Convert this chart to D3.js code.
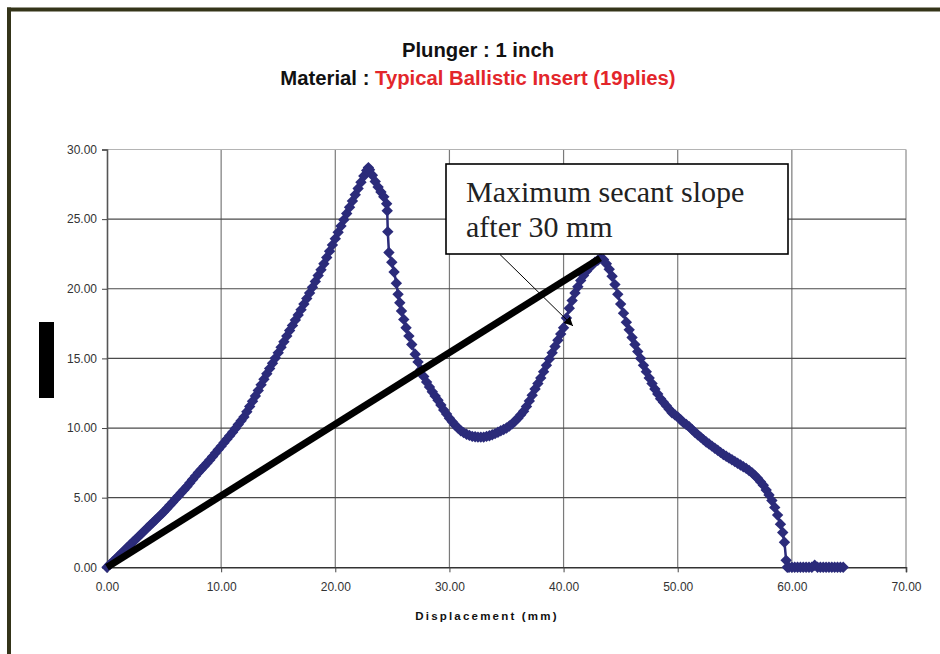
<!DOCTYPE html>
<html lang="en">
<head>
  <meta charset="UTF-8">
  <style>
    html, body { margin: 0; padding: 0; background: #fff; }
    svg { display: block; }
    .tick text { font-family: "Liberation Sans", Arial, sans-serif; font-size: 12px; fill: #333; }
    .title { font-family: "Liberation Sans", Arial, sans-serif; font-size: 20.3px; font-weight: bold; text-anchor: middle; }
    .axis-title { font-family: "Liberation Sans", Arial, sans-serif; font-size: 11.5px; font-weight: bold; letter-spacing: 2.2px; text-anchor: middle; fill: #111; }
    .note { font-family: "Liberation Serif", "Times New Roman", serif; font-size: 30px; fill: #222; }
  </style>
  <script src="https://d3js.org/d3.v7.min.js"></script>
</head>
<body>
  <svg id="chart" width="940" height="654"></svg>

  <script>
    // displacement (mm) and load
    const displacement = [
      0.00, 0.25, 0.50, 0.75, 1.00, 1.25, 1.50, 1.75, 2.00, 2.25,
      2.50, 2.75, 3.00, 3.25, 3.50, 3.75, 4.00, 4.25, 4.50, 4.75,
      5.00, 5.25, 5.50, 5.75, 6.00, 6.25, 6.50, 6.75, 7.00, 7.25,
      7.50, 7.75, 8.00, 8.25, 8.50, 8.75, 9.00, 9.25, 9.50, 9.75,
      10.00, 10.25, 10.50, 10.75, 11.00, 11.25, 11.50, 11.75, 12.00, 12.25,
      12.50, 12.75, 13.00, 13.25, 13.50, 13.75, 14.00, 14.25, 14.50, 14.75,
      15.00, 15.25, 15.50, 15.75, 16.00, 16.25, 16.50, 16.75, 17.00, 17.25,
      17.50, 17.75, 18.00, 18.25, 18.50, 18.75, 19.00, 19.25, 19.50, 19.75,
      20.00, 20.25, 20.50, 20.75, 21.00, 21.25, 21.50, 21.75, 22.00, 22.25,
      22.50, 22.75, 22.90, 23.00, 23.25, 23.50, 23.75, 24.00, 24.25, 24.50,
      24.55, 24.60, 24.70, 24.95, 25.15, 25.35, 25.50, 25.65, 25.80, 26.00,
      26.20, 26.45, 26.70, 27.00, 27.25, 27.50, 27.75, 28.00, 28.25, 28.50,
      28.75, 29.00, 29.25, 29.50, 29.75, 30.00, 30.25, 30.50, 30.75, 31.00,
      31.25, 31.50, 31.75, 32.00, 32.25, 32.50, 32.75, 33.00, 33.25, 33.50,
      33.75, 34.00, 34.25, 34.50, 34.75, 35.00, 35.25, 35.50, 35.75, 36.00,
      36.25, 36.50, 36.75, 37.00, 37.25, 37.50, 37.75, 38.00, 38.25, 38.50,
      38.75, 39.00, 39.25, 39.50, 39.75, 40.00, 40.25, 40.50, 40.75, 41.00,
      41.25, 41.50, 41.75, 42.00, 42.25, 42.50, 42.75, 43.00, 43.25, 43.50,
      43.75, 44.00, 44.25, 44.50, 44.75, 45.00, 45.25, 45.50, 45.75, 46.00,
      46.25, 46.50, 46.75, 47.00, 47.25, 47.50, 47.75, 48.00, 48.25, 48.50,
      48.75, 49.00, 49.25, 49.50, 49.75, 50.00, 50.25, 50.50, 50.75, 51.00,
      51.25, 51.50, 51.75, 52.00, 52.25, 52.50, 52.75, 53.00, 53.25, 53.50,
      53.75, 54.00, 54.25, 54.50, 54.75, 55.00, 55.25, 55.50, 55.75, 56.00,
      56.25, 56.50, 56.75, 57.00, 57.25, 57.50, 57.75, 58.00, 58.25, 58.50,
      58.75, 59.00, 59.20, 59.35, 59.50, 59.60, 59.75, 60.00, 60.25, 60.50,
      60.75, 61.00, 61.25, 61.50, 61.75, 62.00, 62.25, 62.50, 62.75, 63.00,
      63.25, 63.50, 63.75, 64.00, 64.25, 64.50
    ];
    const load = [
      0.00, 0.20, 0.40, 0.60, 0.80, 1.00, 1.20, 1.40, 1.60, 1.80,
      2.00, 2.20, 2.40, 2.60, 2.80, 3.00, 3.20, 3.40, 3.60, 3.80,
      4.00, 4.22, 4.45, 4.67, 4.90, 5.12, 5.35, 5.57, 5.80, 6.05,
      6.30, 6.55, 6.80, 7.02, 7.25, 7.47, 7.70, 7.95, 8.20, 8.45,
      8.70, 8.95, 9.20, 9.45, 9.70, 9.97, 10.25, 10.52, 10.80, 11.17,
      11.55, 11.92, 12.30, 12.70, 13.10, 13.50, 13.90, 14.27, 14.65, 15.02,
      15.40, 15.80, 16.20, 16.60, 17.00, 17.37, 17.75, 18.12, 18.50, 18.90,
      19.30, 19.70, 20.10, 20.52, 20.95, 21.37, 21.80, 22.25, 22.70, 23.15,
      23.60, 24.05, 24.50, 24.95, 25.40, 25.85, 26.30, 26.75, 27.20, 27.65,
      28.10, 28.50, 28.70, 28.55, 28.15, 27.70, 27.30, 26.95, 26.60, 26.10,
      25.60, 24.10, 22.60, 21.90, 21.20, 20.40, 19.60, 19.00, 18.40, 17.80,
      17.20, 16.60, 16.00, 15.30, 14.75, 14.20, 13.70, 13.30, 12.95, 12.60,
      12.30, 12.00, 11.65, 11.30, 11.00, 10.70, 10.45, 10.20, 10.00, 9.80,
      9.67, 9.55, 9.47, 9.40, 9.37, 9.35, 9.35, 9.35, 9.40, 9.45,
      9.52, 9.60, 9.70, 9.80, 9.90, 10.00, 10.15, 10.30, 10.50, 10.70,
      10.95, 11.20, 11.55, 11.95, 12.35, 12.80, 13.20, 13.60, 14.05, 14.50,
      14.95, 15.40, 15.85, 16.30, 16.75, 17.20, 17.90, 18.60, 19.15, 19.70,
      20.15, 20.60, 20.95, 21.25, 21.50, 21.72, 21.90, 22.05, 22.20, 22.10,
      21.80, 21.40, 20.90, 20.30, 19.60, 18.90, 18.25, 17.60, 17.05, 16.50,
      16.00, 15.50, 15.00, 14.50, 14.05, 13.60, 13.20, 12.80, 12.45, 12.10,
      11.85, 11.60, 11.35, 11.10, 10.95, 10.80, 10.60, 10.40, 10.25, 10.10,
      9.90, 9.70, 9.52, 9.35, 9.17, 9.00, 8.85, 8.70, 8.55, 8.40,
      8.25, 8.10, 7.97, 7.85, 7.72, 7.60, 7.47, 7.35, 7.22, 7.10,
      6.95, 6.80, 6.60, 6.40, 6.15, 5.90, 5.55, 5.20, 4.80, 4.30,
      3.75, 3.10, 2.50, 1.80, 0.50, 0.00, 0.00, 0.00, 0.00, 0.00,
      0.00, 0.00, 0.00, 0.00, 0.00, 0.15, 0.00, 0.00, 0.00, 0.00,
      0.00, 0.00, 0.00, 0.00, 0.00, 0.00
    ];

    // secant line drawn on the chart (origin to second peak)
    const secantX = [0, 43.2];
    const secantY = [0, 22.2];

    const xTicks = [0, 10, 20, 30, 40, 50, 60, 70];
    const yTicks = [0, 5, 10, 15, 20, 25, 30];

    const svg = d3.select("#chart");

    const x = d3.scaleLinear().domain([0, 70]).range([107, 906]);
    const y = d3.scaleLinear().domain([0, 30]).range([567.3, 149.5]);

    // outer frame (top and left edges only are visible)
    svg.append("line").attr("x1", 7).attr("x2", 940).attr("y1", 9.5).attr("y2", 9.5)
      .attr("stroke", "#343419").attr("stroke-width", 4);
    svg.append("line").attr("x1", 9).attr("x2", 9).attr("y1", 7.5).attr("y2", 654)
      .attr("stroke", "#343419").attr("stroke-width", 4);

    // titles
    svg.append("text").attr("class", "title").attr("x", 478).attr("y", 57)
      .attr("fill", "#111").text("Plunger : 1 inch");
    const t2 = svg.append("text").attr("class", "title").attr("x", 478).attr("y", 85);
    t2.append("tspan").attr("fill", "#111").text("Material : ");
    t2.append("tspan").attr("fill", "#e3262b").text("Typical Ballistic Insert (19plies)");

    // gridlines
    const grid = svg.append("g");
    grid.selectAll(".vgrid").data(xTicks.slice(1))
      .enter().append("line")
      .attr("x1", d => x(d)).attr("x2", d => x(d))
      .attr("y1", y(30)).attr("y2", y(0))
      .attr("stroke", d => d === 70 ? "#8c8c8c" : "#7a7a7a").attr("stroke-width", 1.2);
    grid.selectAll(".hgrid").data(yTicks.slice(1))
      .enter().append("line")
      .attr("x1", x(0)).attr("x2", x(70))
      .attr("y1", d => y(d)).attr("y2", d => y(d))
      .attr("stroke", d => d === 30 ? "#b4b4b4" : "#4a4a4a").attr("stroke-width", 1.2);

    // axes
    const yAxis = svg.append("g").attr("transform", `translate(${x(0)},0)`)
      .call(d3.axisLeft(y).tickValues(yTicks).tickFormat(d3.format(".2f")).tickSize(5).tickPadding(5));
    yAxis.select(".domain").attr("stroke", "#555").attr("stroke-width", 1.6);
    yAxis.selectAll(".tick line").attr("stroke", "#444");

    const xAxis = svg.append("g").attr("transform", `translate(0,${y(0)})`)
      .call(d3.axisBottom(x).tickValues(xTicks).tickFormat(d3.format(".2f")).tickSize(5).tickPadding(10));
    xAxis.select(".domain").attr("stroke", "#333").attr("stroke-width", 1.6);
    xAxis.selectAll(".tick line").attr("stroke", "#444");

    svg.append("text").attr("class", "axis-title").attr("x", 487).attr("y", 620)
      .text("Displacement (mm)");

    // y axis title block (rendered as a solid black block in the source)
    svg.append("rect").attr("x", 39).attr("y", 322).attr("width", 15).attr("height", 76)
      .attr("fill", "#000");

    // data series
    const pts = displacement.map((d, i) => [d, load[i]]);
    svg.append("path").datum(pts)
      .attr("fill", "none").attr("stroke", "#2b2b7a").attr("stroke-width", 2.5)
      .attr("stroke-linejoin", "round")
      .attr("d", d3.line().x(d => x(d[0])).y(d => y(d[1])));

    const r = 5.7;
    svg.append("g").selectAll("path").data(pts)
      .enter().append("path")
      .attr("transform", d => `translate(${x(d[0])},${y(d[1])})`)
      .attr("d", `M0,${-r}L${r},0L0,${r}L${-r},0Z`)
      .attr("fill", "#2b2b7a");

    // secant line
    svg.append("line")
      .attr("x1", x(secantX[0])).attr("y1", y(secantY[0]))
      .attr("x2", x(secantX[1])).attr("y2", y(secantY[1]))
      .attr("stroke", "#000").attr("stroke-width", 7);

    // callout box
    svg.append("rect").attr("x", 446).attr("y", 164).attr("width", 342).attr("height", 90)
      .attr("fill", "#fff").attr("stroke", "#000").attr("stroke-width", 1.6);
    svg.append("text").attr("class", "note").attr("x", 466).attr("y", 202).text("Maximum secant slope");
    svg.append("text").attr("class", "note").attr("x", 466).attr("y", 237).text("after 30 mm");

    // arrow from box to curve
    svg.append("defs").append("marker")
      .attr("id", "arrow").attr("viewBox", "0 0 10 10").attr("refX", 10).attr("refY", 5)
      .attr("markerWidth", 9).attr("markerHeight", 9).attr("markerUnits", "userSpaceOnUse")
      .attr("orient", "auto")
      .append("path").attr("d", "M0,0L10,5L0,10Z").attr("fill", "#000");
    svg.append("line")
      .attr("x1", 500).attr("y1", 254.5).attr("x2", 573).attr("y2", 326)
      .attr("stroke", "#000").attr("stroke-width", 1).attr("marker-end", "url(#arrow)");
  </script>
</body>
</html>
